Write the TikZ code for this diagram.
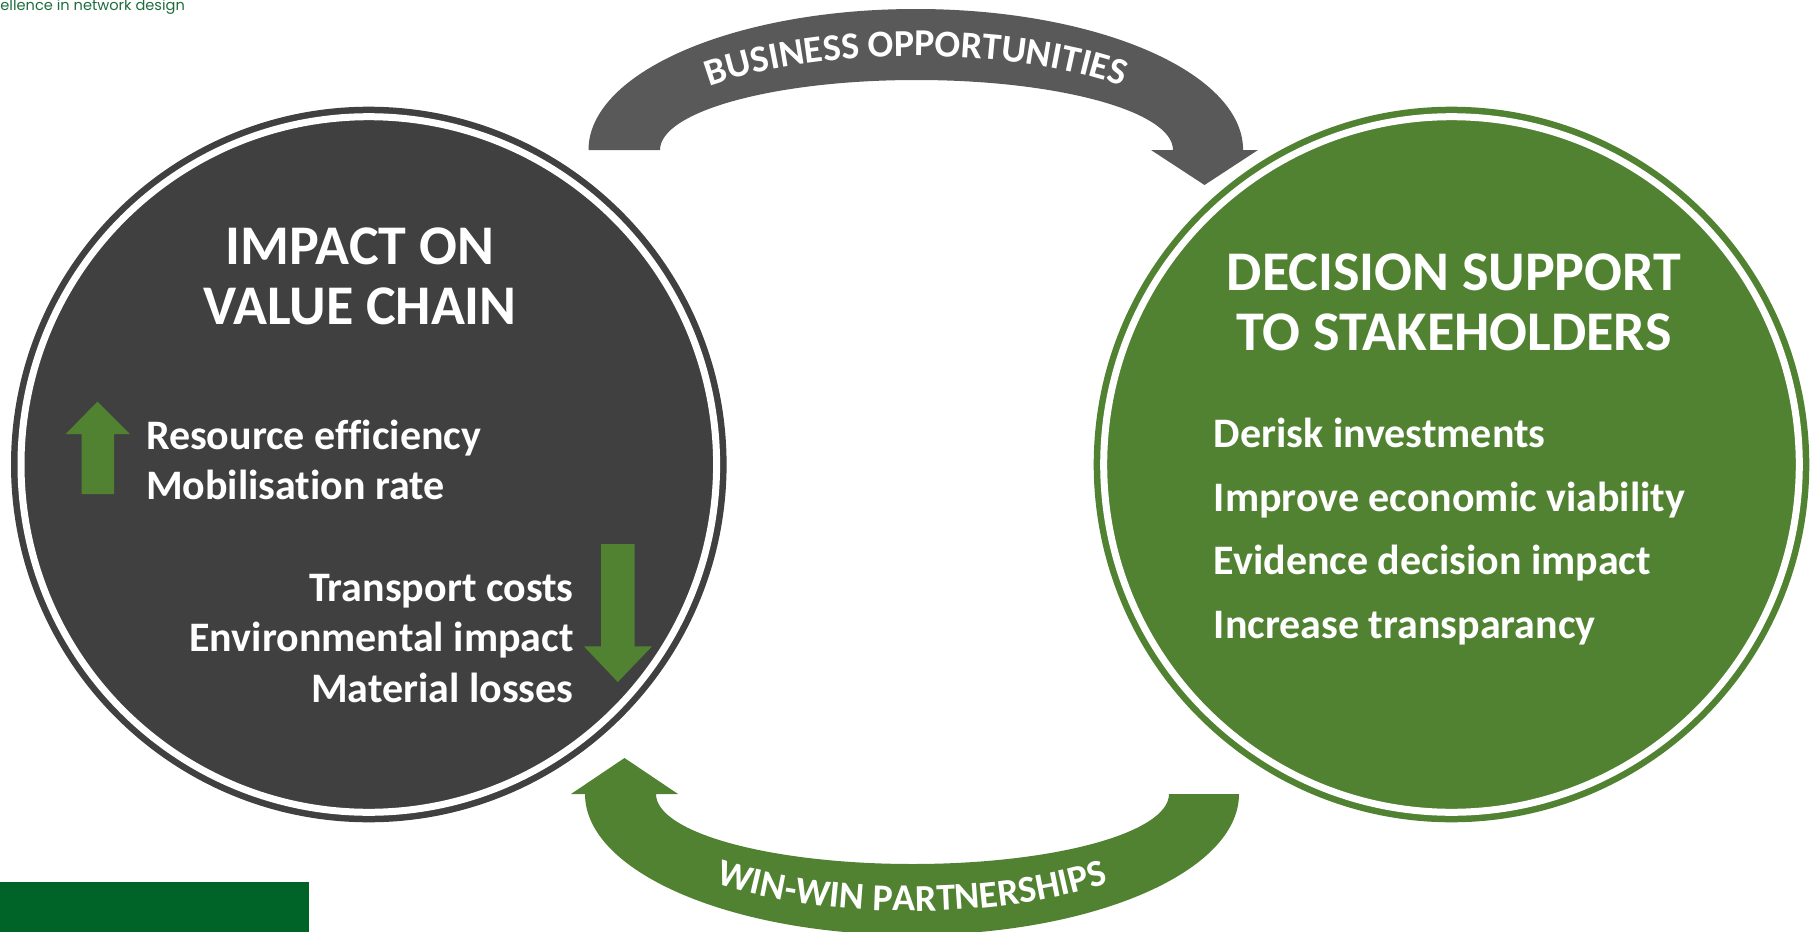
\documentclass[tikz,border=0pt]{standalone}
\usepackage{fontspec}
\setmainfont{Carlito}[Ligatures=NoCommon]
\newfontfamily\taglinefont{Poppins}
\usetikzlibrary{decorations.text}

\definecolor{charcoal}{RGB}{64,64,64}
\definecolor{slate}{RGB}{89,89,89}
\definecolor{leaf}{RGB}{81,130,50}
\definecolor{forest}{RGB}{0,99,40}
\definecolor{brandgreen}{RGB}{30,110,60}

\newcommand{\arrowlabelfont}{\color{white}\bfseries\fontsize{19}{22}\selectfont}

\begin{document}
\begin{tikzpicture}[x=0.5pt,y=0.5pt,
  hub/.style={circle, inner sep=0pt, outer sep=0pt, minimum size=347.8pt,
    line width=3.25pt, double=white, double distance=3.5pt},
  hubtitle/.style={inner sep=0pt, text=white,
    font=\bfseries\fontsize{28}{30}\selectfont},
  hubitem/.style={inner sep=0pt, text=white,
    font=\bfseries\fontsize{21}{24}\selectfont}]

% page
\useasboundingbox (0,0) rectangle (1812,-932);
\fill[white] (0,0) rectangle (1812,-932);

% header tagline and footer band
\node[anchor=base west, inner sep=0pt, text=brandgreen,
  font=\taglinefont\fontsize{7.3}{8}\selectfont] (tagline) at (0,-10) {ellence in network design};
\fill[forest] (0,-882) rectangle (309,-940);

% the two hubs
\node[hub, draw=charcoal, fill=charcoal] (impact) at (368.8,-464.5) {};
\node[hub, draw=leaf, fill=leaf] (decision) at (1451.5,-464.5) {};

% upper curved arrow: impact -> decision
\fill[slate] (588.5,-150)
  arc[start angle=180, end angle=0, x radius=327.3, y radius=141]
  -- (1258,-150) -- (1204.5,-185) -- (1151,-150) -- (1173,-150)
  arc[start angle=0, end angle=180, x radius=256.5, y radius=70] -- cycle;
\path[decorate, decoration={text along path, text align=center,
  text={|\arrowlabelfont|BUSINESS OPPORTUNITIES}}]
  (636,-150) arc[start angle=180, end angle=0, x radius=280, y radius=94];

% lower curved arrow: decision -> impact
\fill[leaf] (1239,-794)
  arc[start angle=0, end angle=-180, x radius=327, y radius=141]
  -- (571,-794) -- (624.5,-758) -- (678,-794) -- (656,-794)
  arc[start angle=180, end angle=360, x radius=256.5, y radius=70] -- cycle;
\path[decorate, decoration={text along path, text align=center,
  text={|\arrowlabelfont|WIN-WIN PARTNERSHIPS}}]
  (608,-794) arc[start angle=180, end angle=360, x radius=304, y radius=117];

% impact hub contents
\node[hubtitle, anchor=base] (impactA) at (360,-264) {IMPACT ON};
\node[hubtitle, anchor=base] (impactB) at (360,-324) {VALUE CHAIN};

\fill[leaf] (97.5,-401.5) -- (130,-434) -- (114,-434) -- (114,-494)
  -- (81.7,-494) -- (81.7,-434) -- (65.7,-434) -- cycle;
\node[hubitem, anchor=base west] (gainA) at (145.6,-449) {Resource efficiency};
\node[hubitem, anchor=base west] (gainB) at (145.6,-499) {Mobilisation rate};

\fill[leaf] (601,-544) -- (634.7,-544) -- (634.7,-646.4) -- (652,-646.4)
  -- (617.8,-682) -- (584,-646.4) -- (601,-646.4) -- cycle;
\node[hubitem, anchor=base east] (dropA) at (574,-601) {Transport costs};
\node[hubitem, anchor=base east] (dropB) at (574,-651) {Environmental impact};
\node[hubitem, anchor=base east] (dropC) at (574,-702) {Material losses};

% decision hub contents
\node[hubtitle, anchor=base] (decisionA) at (1454,-290) {DECISION SUPPORT};
\node[hubtitle, anchor=base] (decisionB) at (1454,-350) {TO STAKEHOLDERS};

\node[hubitem, anchor=base west] (aimA) at (1213.4,-447.5) {Derisk investments};
\node[hubitem, anchor=base west] (aimB) at (1213.4,-511) {Improve economic viability};
\node[hubitem, anchor=base west] (aimC) at (1213.4,-574.5) {Evidence decision impact};
\node[hubitem, anchor=base west] (aimD) at (1213.4,-638) {Increase transparancy};

\end{tikzpicture}
\end{document}
